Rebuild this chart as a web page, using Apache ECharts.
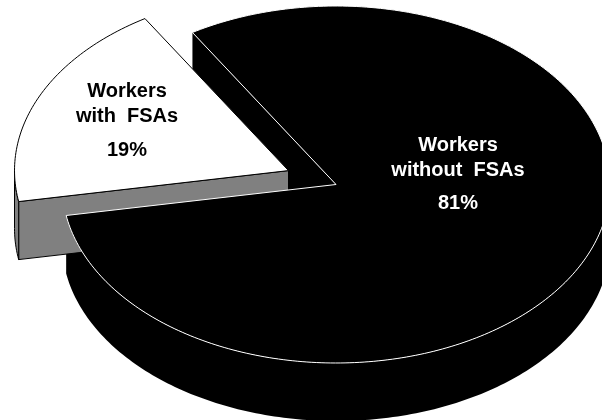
<!DOCTYPE html>
<html><head><meta charset="utf-8">
<script src="https://cdn.jsdelivr.net/npm/echarts@6/dist/echarts.min.js"></script>
<style>html,body{margin:0;padding:0;background:#fff}#c{width:602px;height:420px}</style>
</head><body><div id="c"></div>
<script>
// ---- data ----
const categories = ['Workers with FSAs', 'Workers without FSAs'];
const values = [19, 81];
const labelLines = [['Workers', 'with  FSAs', '19%'], ['Workers', 'without  FSAs', '81%']];
const topColors = ['#ffffff', '#000000'];
const sideColors = ['#808080', '#000000'];
const edgeColors = ['#000000', '#ffffff'];
const textColors = ['#000000', '#ffffff'];
const explode = [0.19, 0];

// ---- layout ----
const CX = 336, CY = 184.5, RX = 274, RY = 178.5, DEPTH = 58, START = 170;
const total = values.reduce((a, b) => a + b, 0);
const slices = [];
let acc = START;
values.forEach(v => { const span = v / total * 360; slices.push({ s: acc, e: acc + span }); acc += span; });

function pt(cx, cy, t, dy) { const r = t * Math.PI / 180; return [cx + RX * Math.cos(r), cy + RY * Math.sin(r) + (dy || 0)]; }
function arc(cx, cy, a, b, dy) {
  const n = Math.max(2, Math.ceil(Math.abs(b - a)));
  const out = [];
  for (let k = 0; k <= n; k++) out.push(pt(cx, cy, a + (b - a) * k / n, dy));
  return out;
}
function frontRanges(s, e) {
  const res = [];
  for (let base = -720; base <= 720; base += 360) {
    const a = Math.max(s, base), b = Math.min(e, base + 180);
    if (b > a) res.push([a, b]);
  }
  return res;
}
const cosd = d => Math.cos(d * Math.PI / 180);
const sind = d => Math.sin(d * Math.PI / 180);

function renderItem(params, api) {
  const i = params.dataIndex;
  const { s, e } = slices[i];
  const mid = (s + e) / 2;
  const cx = CX + explode[i] * RX * cosd(mid);
  const cy = CY + explode[i] * RY * sind(mid);
  const exploded = explode[i] > 0;
  const zSide = exploded ? 2 : 1, zTop = exploded ? 3 : 4;
  const sideStroke = exploded ? '#000' : null;
  const children = [];
  // radial side faces
  if (cosd(s) < 0) {
    const p = pt(cx, cy, s);
    children.push({ type: 'polygon', z2: zSide, shape: { points: [[cx, cy], p, [p[0], p[1] + DEPTH], [cx, cy + DEPTH]] },
      style: { fill: sideColors[i], stroke: sideStroke, lineWidth: 1 } });
  }
  if (cosd(e) > 0) {
    const p = pt(cx, cy, e);
    children.push({ type: 'polygon', z2: zSide, shape: { points: [[cx, cy], p, [p[0], p[1] + DEPTH], [cx, cy + DEPTH]] },
      style: { fill: sideColors[i], stroke: sideStroke, lineWidth: 1 } });
  }
  // outer side
  frontRanges(s, e).forEach(([a, b]) => {
    const pts = arc(cx, cy, a, b, 0).concat(arc(cx, cy, b, a, DEPTH));
    children.push({ type: 'polygon', z2: zSide, shape: { points: pts },
      style: { fill: sideColors[i], stroke: sideStroke, lineWidth: 1 } });
  });
  // top face
  const topPts = [[cx, cy]].concat(arc(cx, cy, s, e, 0));
  children.push({ type: 'polygon', z2: zTop, shape: { points: topPts },
    style: { fill: topColors[i], stroke: edgeColors[i], lineWidth: 1 } });
  return { type: 'group', children };
}

const labelPos = [[127, [91, 116, 150]], [458, [145, 170, 203]]];
const graphics = [];
labelLines.forEach((lines, i) => {
  lines.forEach((txt, k) => {
    graphics.push({ type: 'text', x: labelPos[i][0], y: labelPos[i][1][k], z: 10,
      style: { text: txt, fill: textColors[i], font: 'bold 20px "Liberation Sans", Arial, sans-serif',
        textAlign: 'center', textVerticalAlign: 'middle' } });
  });
});

const chart = echarts.init(document.getElementById('c'), null, { renderer: 'canvas' });
chart.setOption({
  animation: false,
  backgroundColor: '#ffffff',
  series: [{
    type: 'custom',
    coordinateSystem: 'none',
    renderItem,
    data: categories.map((c, i) => ({ name: c, value: values[i] }))
  }],
  graphic: graphics
});
</script></body></html>
